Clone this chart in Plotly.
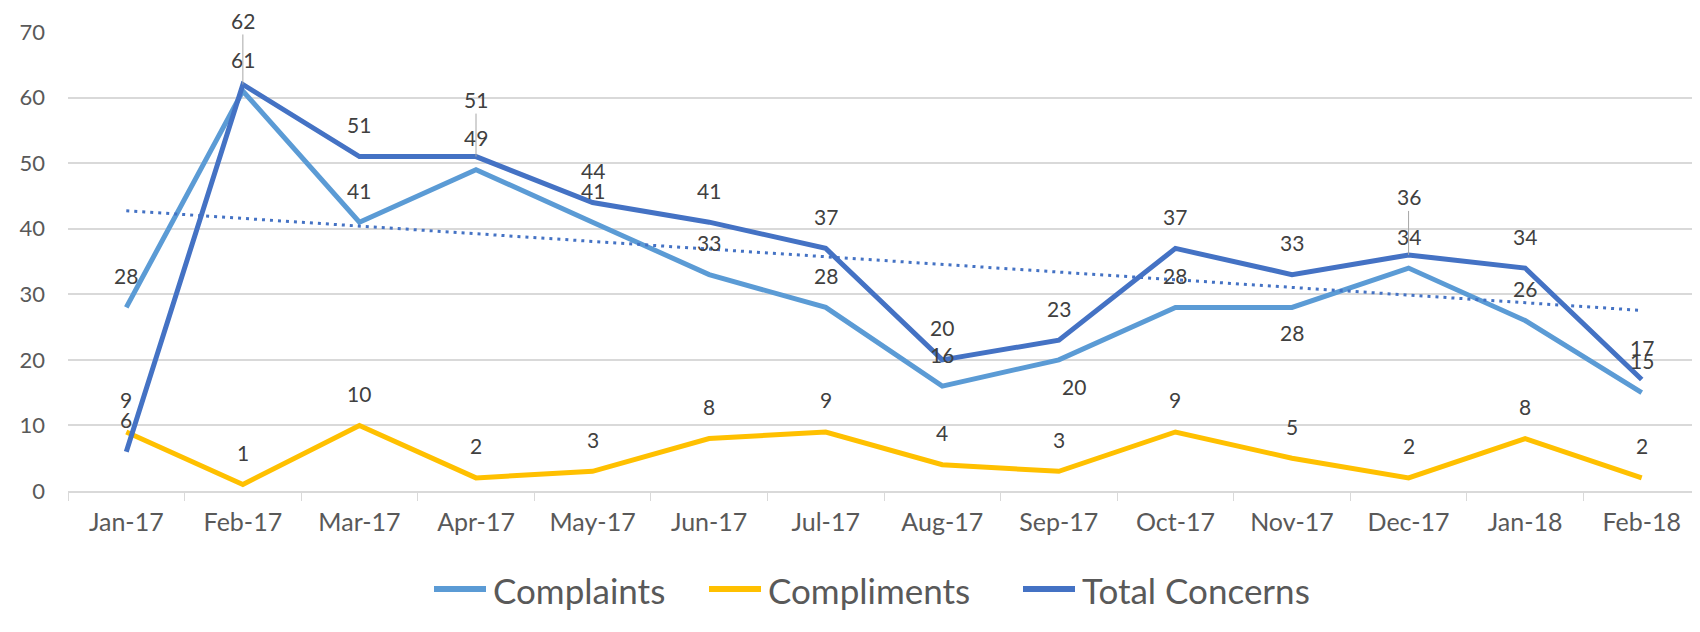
import numpy as np
import plotly.graph_objects as go

months = ["Jan-17", "Feb-17", "Mar-17", "Apr-17", "May-17", "Jun-17", "Jul-17",
          "Aug-17", "Sep-17", "Oct-17", "Nov-17", "Dec-17", "Jan-18", "Feb-18"]
complaints = [28, 61, 41, 49, 41, 33, 28, 16, 20, 28, 28, 34, 26, 15]
compliments = [9, 1, 10, 2, 3, 8, 9, 4, 3, 9, 5, 2, 8, 2]
total_concerns = [6, 62, 51, 51, 44, 41, 37, 20, 23, 37, 33, 36, 34, 17]
y_ticks = [0, 10, 20, 30, 40, 50, 60, 70]
series_names = ["Complaints", "Compliments", "Total Concerns"]

C_COMPLAINTS = "#5B9BD5"
C_COMPLIMENTS = "#FFC000"
C_TOTAL = "#4472C4"
GRID = "#D9D9D9"
TXT = "#595959"
LBL = "#404040"
FONT = "Lato, 'Open Sans', sans-serif"

# the page body adds an 8px offset; compensate so the picture lands like the reference
OFF = 8
W, H = 1700 - OFF, 632 - OFF
ML, MR, MT = 68 - OFF, 0, 32 - OFF
MB = H - (491 - OFF)
PW, PH = W - ML - MR, H - MT - MB


def px_x(px):
    return (px - OFF - ML) / PW


def px_y(py):
    return (H - MB - (py - OFF)) / PH


# linear trend of Total Concerns (Excel linear trendline)
xi = np.arange(len(months))
slope, intercept = np.polyfit(xi, np.array(total_concerns, dtype=float), 1)
trend = intercept + slope * xi

fig = go.Figure()
fig.add_trace(go.Scatter(x=months, y=complaints, name=series_names[0], mode="lines",
                         line=dict(color=C_COMPLAINTS, width=5)))
fig.add_trace(go.Scatter(x=months, y=compliments, name=series_names[1], mode="lines",
                         line=dict(color=C_COMPLIMENTS, width=5)))
fig.add_trace(go.Scatter(x=months, y=total_concerns, name=series_names[2], mode="lines",
                         line=dict(color=C_TOTAL, width=5)))
fig.add_trace(go.Scatter(x=months, y=trend, name="Linear (Total Concerns)", mode="lines",
                         line=dict(color=C_TOTAL, width=3, dash="3px,5px")))

# data labels
DEFAULT_OFF = 32
label_style = {
    ("total", "Feb-17"): dict(off=64, leader=True),
    ("total", "Apr-17"): dict(off=57, leader=True),
    ("total", "Dec-17"): dict(off=58, leader=True),
    ("complaints", "Sep-17"): dict(off=-27, dx=15),
    ("complaints", "Nov-17"): dict(off=-25),
}
series = [("complaints", complaints), ("compliments", compliments), ("total", total_concerns)]
annotations = []
for key, vals in series:
    for m, v in zip(months, vals):
        st = label_style.get((key, m), {})
        off = st.get("off", DEFAULT_OFF)
        dx = st.get("dx", 0)
        if st.get("leader"):
            annotations.append(dict(x=m, y=v, xref="x", yref="y", text=str(v),
                                    showarrow=True, ax=0, ay=-off, arrowhead=0,
                                    arrowwidth=1, arrowcolor="#A6A6A6", standoff=0,
                                    font=dict(family=FONT, size=21, color=LBL)))
        else:
            annotations.append(dict(x=m, y=v, xref="x", yref="y", text=str(v),
                                    showarrow=False, yshift=off, xshift=dx,
                                    font=dict(family=FONT, size=21, color=LBL)))

# custom legend (Excel-like long line keys)
shapes = []
legend_items = [(series_names[0], C_COMPLAINTS, 432), (series_names[1], C_COMPLIMENTS, 707),
                (series_names[2], C_TOTAL, 1021)]
LEG_Y = 589
for name, col, x0 in legend_items:
    shapes.append(dict(type="line", xref="paper", yref="paper", x0=px_x(x0 + 2), x1=px_x(x0 + 54),
                       y0=px_y(LEG_Y), y1=px_y(LEG_Y), line=dict(color=col, width=6)))
    annotations.append(dict(x=px_x(x0 + 59), y=px_y(LEG_Y + 1), xref="paper", yref="paper",
                            text=name, showarrow=False, xanchor="left", yanchor="middle",
                            font=dict(family=FONT, size=35, color=TXT)))

fig.update_layout(
    width=W, height=H,
    margin=dict(l=ML, r=MR, t=MT, b=MB, autoexpand=False),
    paper_bgcolor="white", plot_bgcolor="white",
    font=dict(family=FONT, color=TXT),
    annotations=annotations,
    shapes=shapes,
    showlegend=False,
    xaxis=dict(type="category", range=[-0.5, 13.5], automargin=False,
               showgrid=False, showline=True, linecolor=GRID, linewidth=1.5,
               ticks="outside", tickson="boundaries", ticklen=8, tickcolor=GRID,
               tickfont=dict(family=FONT, size=25, color=TXT), ticklabelstandoff=8,
               zeroline=False),
    yaxis=dict(range=[0, 70], tickvals=y_ticks, automargin=False,
               showgrid=True, gridcolor=GRID, gridwidth=1.5,
               showline=False, zeroline=False, ticks="",
               tickfont=dict(family=FONT, size=22, color=TXT), ticklabelstandoff=22),
)

fig.write_html("out.html")
